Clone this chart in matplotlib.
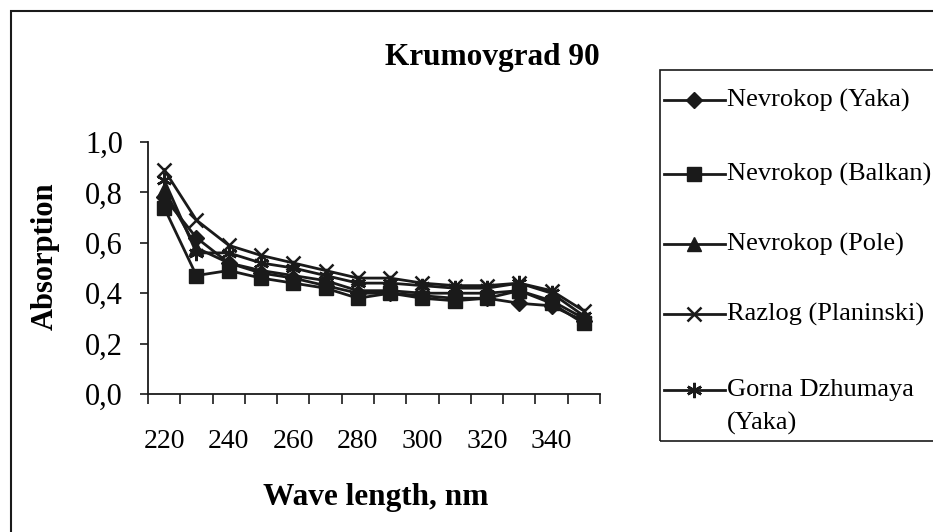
import matplotlib
matplotlib.use("Agg")
import matplotlib.pyplot as plt
from matplotlib.patches import Rectangle
from matplotlib.lines import Line2D
import numpy as np

plt.rcParams['font.family'] = ['Liberation Serif', 'DejaVu Serif']

wavelengths = [220, 230, 240, 250, 260, 270, 280, 290, 300, 310, 320, 330, 340, 350]
tick_labels = ['220', '240', '260', '280', '300', '320', '340']

nevrokop_yaka = [0.78, 0.62, 0.52, 0.48, 0.46, 0.43, 0.40, 0.40, 0.39, 0.38, 0.38, 0.36, 0.35, 0.29]
nevrokop_balkan = [0.74, 0.47, 0.49, 0.46, 0.44, 0.42, 0.38, 0.40, 0.38, 0.37, 0.38, 0.41, 0.36, 0.28]
nevrokop_pole = [0.81, 0.58, 0.52, 0.49, 0.47, 0.45, 0.41, 0.41, 0.40, 0.40, 0.40, 0.41, 0.37, 0.30]
razlog_planinski = [0.89, 0.69, 0.59, 0.55, 0.52, 0.49, 0.46, 0.46, 0.44, 0.43, 0.43, 0.44, 0.41, 0.33]
gorna_dzhumaya = [0.85, 0.56, 0.56, 0.52, 0.50, 0.47, 0.44, 0.44, 0.43, 0.42, 0.42, 0.44, 0.40, 0.31]

series_labels = ["Nevrokop (Yaka)", "Nevrokop (Balkan)", "Nevrokop (Pole)",
                 "Razlog (Planinski)", "Gorna Dzhumaya\n(Yaka)"]
series_values = [nevrokop_yaka, nevrokop_balkan, nevrokop_pole, razlog_planinski, gorna_dzhumaya]
markers = ['D', 's', '^', 'x', (6, 2, 0)]
msizes = [8, 10, 10, 10, 11]

INK = '#1a1a1a'
W, H = 933, 532
fig = plt.figure(figsize=(W / 100, H / 100), dpi=100)
ax = fig.add_axes([148 / W, 1 - 394 / H, (600 - 148) / W, (394 - 142) / H])

x = np.arange(len(wavelengths))
styles = []
for label, vals, m, ms in zip(series_labels, series_values, markers, msizes):
    st = dict(color=INK, lw=2.0, marker=m, markersize=ms,
              markeredgewidth=1.8 if m in ('x', (6, 2, 0)) else 1.0,
              markerfacecolor=INK, markeredgecolor=INK)
    styles.append(st)
    ax.plot(x, vals, label=label, **st)

ax.set_xlim(-0.5, len(wavelengths) - 0.5)
ax.set_ylim(0, 1.0)
yt = [0, 0.2, 0.4, 0.6, 0.8, 1.0]
ax.set_yticks(yt)
ax.set_yticklabels([f"{v:.1f}".replace('.', ',') for v in yt])
ax.set_xticks(np.arange(len(wavelengths) + 1) - 0.5)
ax.set_xticklabels([])
ax.set_xticks(np.arange(0, len(wavelengths), 2), minor=True)
ax.set_xticklabels(tick_labels, minor=True)
ax.tick_params(axis='x', which='major', direction='out', length=7, width=1.2, color=INK)
ax.tick_params(axis='x', which='minor', length=0, pad=25, labelsize=20)
ax.tick_params(axis='y', direction='out', length=6, width=1.2, labelsize=22, pad=12, color=INK)
for s in ('top', 'right'):
    ax.spines[s].set_visible(False)
for s in ('left', 'bottom'):
    ax.spines[s].set_linewidth(1.3)
    ax.spines[s].set_color(INK)

fig.text(492 / W, 1 - 58 / H, "Krumovgrad 90", ha='center', va='center',
         fontsize=22.5, fontweight='bold')
fig.text(376 / W, 1 - 497 / H, "Wave length, nm", ha='center', va='center',
         fontsize=22.5, fontweight='bold')
fig.text(45 / W, 1 - 256 / H, "Absorption", ha='center', va='center',
         rotation=90, fontsize=22, fontweight='bold')

# outer frame (left and top visible)
fig.patches.append(Rectangle((11 / W, -0.1), 1.2, 1 - 11 / H + 0.1, transform=fig.transFigure,
                             fill=False, lw=1.5, edgecolor=INK))
# legend box
fig.patches.append(Rectangle((660 / W, 1 - 441 / H), 1.2, (441 - 70) / H, transform=fig.transFigure,
                             fill=False, lw=1.2, edgecolor=INK))

# legend entries
entry_y = [100, 174, 244, 314, 390]
for label, st, yy in zip(series_labels, styles, entry_y):
    yf = 1 - yy / H
    fig.lines.append(Line2D([664 / W, 725 / W], [yf, yf], transform=fig.transFigure,
                            color=INK, lw=2.0))
    fig.lines.append(Line2D([694 / W], [yf], transform=fig.transFigure,
                            **{k: v for k, v in st.items() if k not in ('lw', 'color')},
                            linestyle='none'))
    lines = label.split('\n')
    for i, t in enumerate(lines):
        fig.text(727 / W, 1 - (yy + 33 * i) / H, t, ha='left', va='center', fontsize=19)

fig.savefig("out.png", dpi=100)
